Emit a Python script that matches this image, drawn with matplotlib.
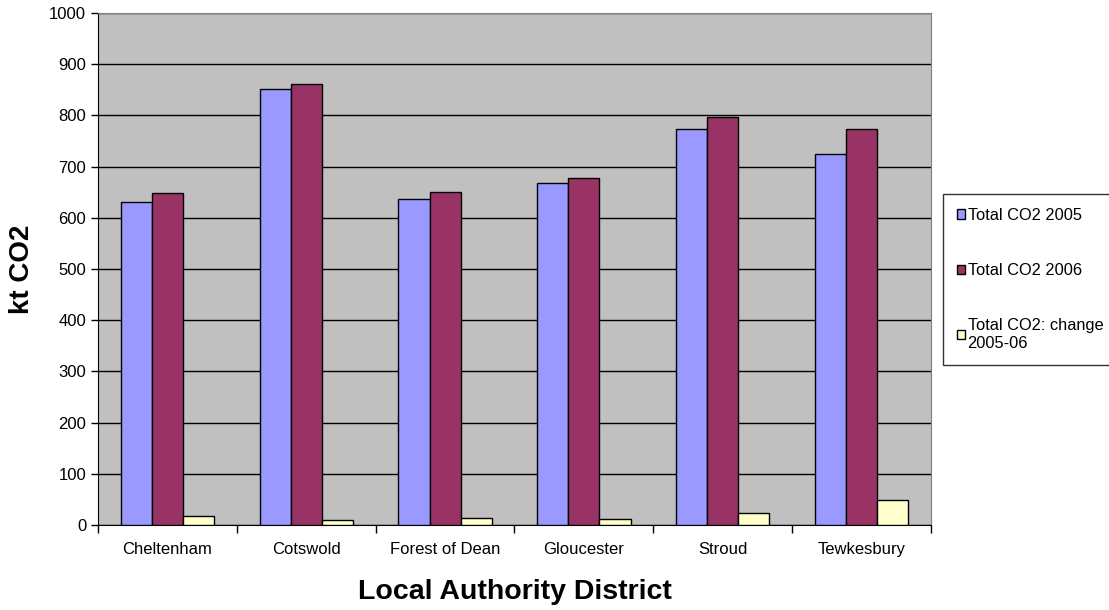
import numpy as np
import matplotlib.pyplot as plt

plt.rcParams["font.family"] = ["Liberation Sans", "DejaVu Sans"]

# Data
districts = ["Cheltenham", "Cotswold", "Forest of Dean", "Gloucester", "Stroud", "Tewkesbury"]
co2_2005 = [630, 852, 637, 667, 773, 724]
co2_2006 = [648, 861, 650, 678, 797, 773]
co2_change = [18, 9, 13, 11, 24, 49]

series_names = ["Total CO2 2005", "Total CO2 2006", "Total CO2: change\n2005-06"]
colors = ["#9999FF", "#993366", "#FFFFCC"]

fig = plt.figure(figsize=(11.09, 6.10), dpi=100)
ax = fig.add_axes([98 / 1109, 1 - 525 / 610, (931 - 98) / 1109, (525 - 13) / 610])
ax.set_facecolor("#C0C0C0")

x = np.arange(len(districts))
w = 0.224
for i, (vals, c, name) in enumerate(zip([co2_2005, co2_2006, co2_change], colors, series_names)):
    ax.bar(x + (i - 1) * w, vals, width=w, color=c, edgecolor="black", linewidth=1.0,
           label=name, zorder=3)

ax.set_xlim(-0.5, len(districts) - 0.5)
ax.set_ylim(0, 1000)
ax.set_yticks(range(0, 1001, 100))
ax.yaxis.grid(True, color="black", linewidth=1.0, zorder=0)
ax.set_axisbelow(True)

ax.set_xticks(np.arange(-0.5, len(districts), 1.0))
ax.set_xticklabels([])
ax.set_xticks(x, minor=True)
ax.set_xticklabels(districts, minor=True)
ax.tick_params(axis="x", which="major", length=6, direction="out", width=1)
ax.tick_params(axis="x", which="minor", length=0, labelsize=12, pad=12)
ax.tick_params(axis="y", length=5, direction="out", width=1, labelsize=12)

for s in ["top", "right"]:
    ax.spines[s].set_color("#808080")
for s in ["left", "bottom"]:
    ax.spines[s].set_color("black")

ax.set_ylabel("kt CO2", fontsize=20, fontweight="bold", labelpad=10)
ax.set_xlabel("Local Authority District", fontsize=20.5, fontweight="bold", labelpad=16)

leg = fig.legend(loc="upper left", bbox_to_anchor=(943 / 1109, 1 - 194 / 610),
                 fontsize=11.8, frameon=True, fancybox=False, edgecolor="black",
                 handlelength=0.5, handleheight=0.5, handletextpad=0.15,
                 labelspacing=2.45, borderpad=0.85, borderaxespad=0)
leg.get_frame().set_linewidth(1.0)

fig.savefig("out.png", dpi=100)
